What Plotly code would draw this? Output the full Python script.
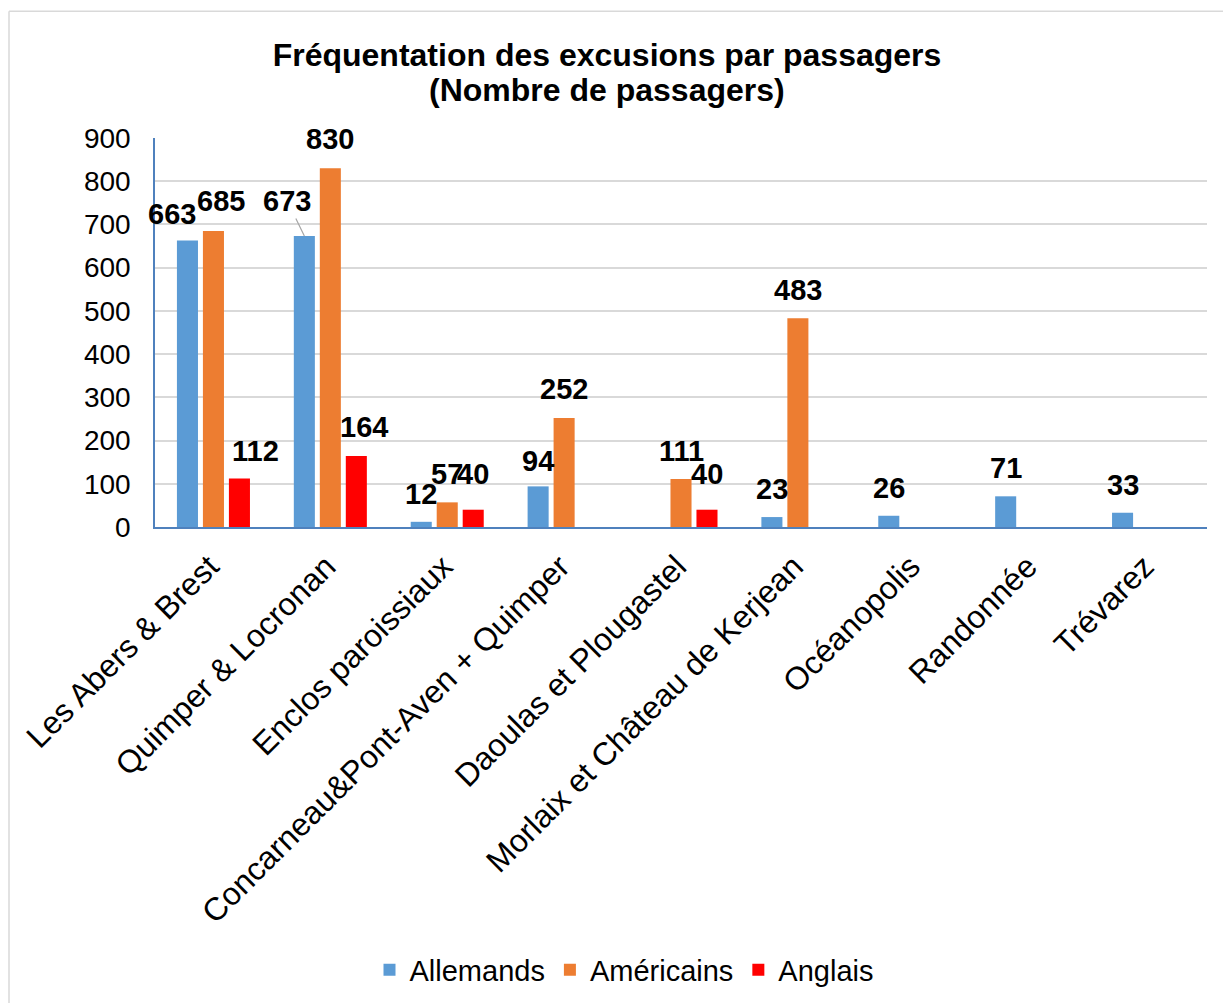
import plotly.graph_objects as go

categories = [
    "Les Abers & Brest",
    "Quimper & Locronan",
    "Enclos paroissiaux",
    "Concarneau&Pont-Aven + Quimper",
    "Daoulas et Plougastel",
    "Morlaix et Château de Kerjean",
    "Océanopolis",
    "Randonnée",
    "Trévarez",
]
allemands = [663, 673, 12, 94, None, 23, 26, 71, 33]
americains = [685, 830, 57, 252, 111, 483, None, None, None]
anglais = [112, 164, 40, None, 40, None, None, None, None]
series_names = ["Allemands", "Américains", "Anglais"]
y_ticks = [0, 100, 200, 300, 400, 500, 600, 700, 800, 900]
title_line1 = "Fréquentation des excusions par passagers"
title_line2 = "(Nombre de passagers)"

# ---- styling / layout -------------------------------------------------
colors = ["#5b9bd5", "#ed7d31", "#ff0000"]
FONT = "Liberation Sans, Arial, sans-serif"
W, H = 1223, 1003
M_L, M_R, M_T, M_B = 155, 16, 138, 475.5
BARGAP, BARGROUPGAP = 0.333, 0.19
LABEL_DY = 28  # px above bar top
# manual nudges of some labels (series index, category index) -> (dx, extra dy)
LABEL_NUDGES = {
    (0, 0): (-15, -2),
    (1, 0): (8, 2),
    (2, 0): (16, 0),
    (1, 1): (0, 1),
    (2, 1): (8, 1),
    (2, 2): (0, 8),
    (2, 4): (0, 8),
    (0, 3): (0, -3),
    (1, 3): (0, 1),
}
LEADER = {(0, 1): (-17, -35)}  # label with leader line

series = [allemands, americains, anglais]

fig = go.Figure()
for name, vals, col in zip(series_names, series, colors):
    fig.add_trace(go.Bar(x=categories, y=vals, name=name,
                         marker=dict(color=col, line=dict(width=0))))

plot_w = W - M_L - M_R
plot_h = H - M_T - M_B
cat_w = plot_w / len(categories)
slot = cat_w * (1 - BARGAP) / len(series)


def px_to_paper_x(px):
    return (px - M_L) / plot_w


def px_to_paper_y(py):
    return (H - M_B - py) / plot_h


LABEL_FONT = dict(family=FONT, size=29, color="#000000")
annotations = []
for si, vals in enumerate(series):
    base_dx = (si - (len(series) - 1) / 2) * slot
    for ci, v in enumerate(vals):
        if v is None:
            continue
        if (si, ci) in LEADER:
            ax, ay = LEADER[(si, ci)]
            annotations.append(dict(
                x=categories[ci], y=v, xref="x", yref="y", text=f"<b>{v}</b>",
                showarrow=True, arrowhead=0, arrowwidth=1.2, arrowcolor="#a6a6a6",
                ax=ax, ay=ay, standoff=0, xshift=base_dx, font=LABEL_FONT))
            continue
        dx, ddy = LABEL_NUDGES.get((si, ci), (0, 0))
        annotations.append(dict(
            x=categories[ci], y=v, xref="x", yref="y", text=f"<b>{v}</b>",
            showarrow=False, xanchor="center", yanchor="middle",
            xshift=base_dx + dx, yshift=LABEL_DY + ddy, font=LABEL_FONT))

# second title line
annotations.append(dict(
    text=f"<b>{title_line2}</b>", xref="paper", yref="paper",
    x=px_to_paper_x(607), y=px_to_paper_y(90), xanchor="center", yanchor="middle",
    showarrow=False, font=dict(family=FONT, size=32, color="#000000")))

# outer chart border (top and left edges visible in the reference)
shapes = [
    dict(type="line", xref="paper", yref="paper",
         x0=px_to_paper_x(9), x1=px_to_paper_x(1240),
         y0=px_to_paper_y(11), y1=px_to_paper_y(11),
         line=dict(color="#d9d9d9", width=1.5)),
    dict(type="line", xref="paper", yref="paper",
         x0=px_to_paper_x(9), x1=px_to_paper_x(9),
         y0=px_to_paper_y(11), y1=px_to_paper_y(1010),
         line=dict(color="#d9d9d9", width=1.5)),
]

fig.update_layout(
    width=W, height=H,
    margin=dict(l=M_L, r=M_R, t=M_T, b=M_B, autoexpand=False),
    paper_bgcolor="#ffffff", plot_bgcolor="#ffffff",
    font=dict(family=FONT, color="#000000"),
    barmode="group", bargap=BARGAP, bargroupgap=BARGROUPGAP,
    title=dict(text=f"<b>{title_line1}</b>",
               x=607 / W, xref="container", xanchor="center",
               y=1 - 55 / H, yref="container", yanchor="middle",
               font=dict(family=FONT, size=32, color="#000000")),
    showlegend=True,
    legend=dict(orientation="h", xref="container", yref="container",
                x=624 / W, xanchor="center", y=1 - 970 / H, yanchor="middle",
                font=dict(family=FONT, size=29, color="#000000"),
                itemclick=False, traceorder="normal"),
    annotations=annotations,
    shapes=shapes,
)
fig.update_yaxes(range=[0, 900], tickvals=y_ticks, ticktext=[str(t) for t in y_ticks],
                 showgrid=True, gridcolor="#d9d9d9", gridwidth=1.5,
                 zeroline=False, showline=True, linecolor="#4f81bd", linewidth=1.5,
                 ticks="", ticklabelstandoff=17,
                 tickfont=dict(family=FONT, size=28, color="#000000"))
fig.update_xaxes(range=[-0.5, len(categories) - 0.5],
                 tickangle=-45, showline=True, linecolor="#4f81bd", linewidth=2,
                 ticks="", showgrid=False, ticklabelstandoff=6, ticklabelshift=-4,
                 tickfont=dict(family=FONT, size=32, color="#000000"))

fig.write_html("out.html", config={"displayModeBar": False},
               post_script="document.body.style.margin='0';document.body.style.overflow='hidden';")
